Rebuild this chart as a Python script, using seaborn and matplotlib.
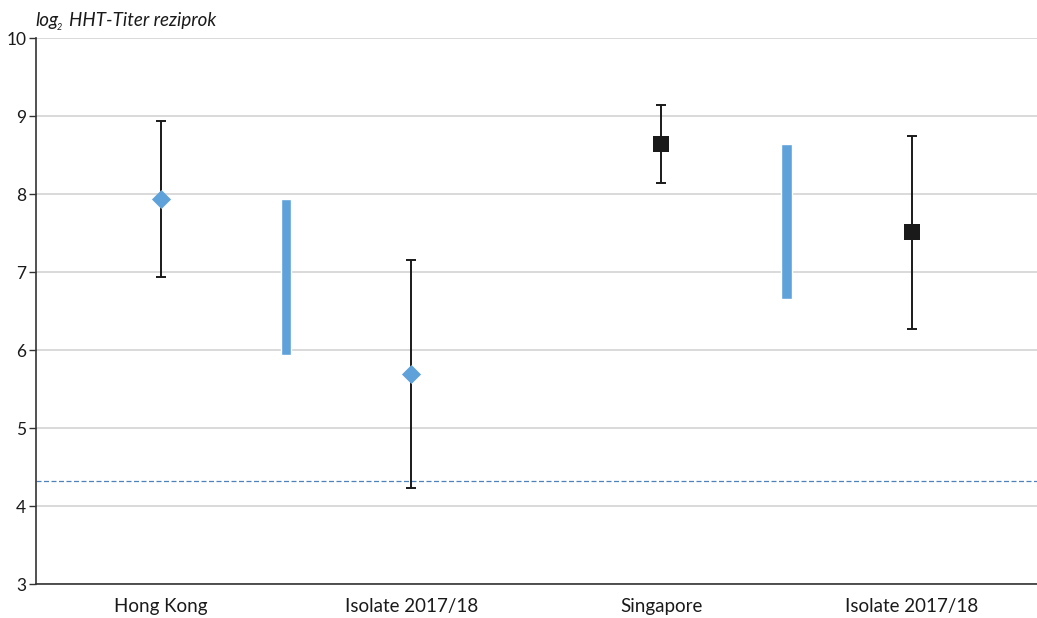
import matplotlib
matplotlib.use('Agg')
import matplotlib.pyplot as plt
import pandas as pd
import seaborn as sns

# Data
categories = ['Hong Kong', 'Isolate 2017/18', 'Singapore', 'Isolate 2017/18 ']
means = [7.93, 5.69, 8.64, 7.51]
errors = [1.0, 1.46, 0.5, 1.24]
groups = ['hk', 'hk', 'sg', 'sg']
range_pos = [0.5, 2.5]          # between the two categories of each group
range_low = [5.93, 6.65]
range_high = [7.93, 8.64]
threshold = 4.32

blue = '#5fa2da'
dark = '#1a1a1a'

sns.set_style('white')
plt.rcParams['font.family'] = ['Lato', 'DejaVu Sans']

df = pd.DataFrame({'cat': categories, 'mean': means, 'err': errors, 'group': groups})
df['x'] = range(len(df))

fig = plt.figure(figsize=(10.37, 6.18), dpi=100)
ax = fig.add_axes([0.0347, 0.055, 0.965, 0.8835])

# gridlines
ax.set_ylim(3, 10)
ax.set_xlim(-0.5, 3.5)
ax.set_yticks(range(3, 11))
ax.yaxis.grid(True, color='#d9d9d9', linewidth=1.4, zorder=0)
ax.set_axisbelow(True)

# threshold
ax.axhline(threshold, color='#4f81bd', linewidth=0.9, linestyle=(0, (4, 2)), zorder=1)

# blue range bars
ax.bar(range_pos, [h - l for h, l in zip(range_high, range_low)], bottom=range_low,
       width=0.042, color=blue, zorder=2)

# error bars
ax.errorbar(df['x'], df['mean'], yerr=df['err'], fmt='none', ecolor=dark,
            elinewidth=1.4, capsize=3.5, capthick=1.4, zorder=3)

# markers
sns.scatterplot(data=df[df['group'] == 'hk'], x='x', y='mean', marker='D', s=95,
                color=blue, edgecolor=blue, linewidth=0, ax=ax, zorder=4, legend=False)
sns.scatterplot(data=df[df['group'] == 'sg'], x='x', y='mean', marker='s', s=125,
                color=dark, edgecolor=dark, linewidth=0, ax=ax, zorder=4, legend=False)

# axes styling
for side in ['top', 'right']:
    ax.spines[side].set_visible(False)
ax.spines['left'].set_color('#333333')
ax.spines['bottom'].set_color('#333333')
ax.spines['left'].set_linewidth(1.2)
ax.spines['bottom'].set_linewidth(1.2)

ax.set_xticks(df['x'])
ax.set_xticklabels([c.strip() for c in categories], fontsize=13.5, color='#1a1a1a')
ax.set_xticks([-0.5, 0.5, 1.5, 2.5, 3.5], minor=True)
ax.tick_params(axis='x', which='major', length=0, pad=10)
ax.tick_params(axis='x', which='minor', length=5, width=1, color='#333333', direction='out')
ax.tick_params(axis='y', length=5, width=1, color='#333333', direction='out',
               labelsize=12.5, labelcolor='#1a1a1a', pad=2, left=True)
ax.set_xlabel('')
ax.set_ylabel('')

# y-axis title with subscript
fig.text(0.034, 0.958, 'log', fontsize=13.5, style='italic', color='#1a1a1a')
fig.text(0.0548, 0.952, '2', fontsize=6.5, style='italic', color='#1a1a1a')
fig.text(0.067, 0.958, 'HHT-Titer reziprok', fontsize=13.5, style='italic', color='#1a1a1a')

fig.savefig('out.png', dpi=100)
